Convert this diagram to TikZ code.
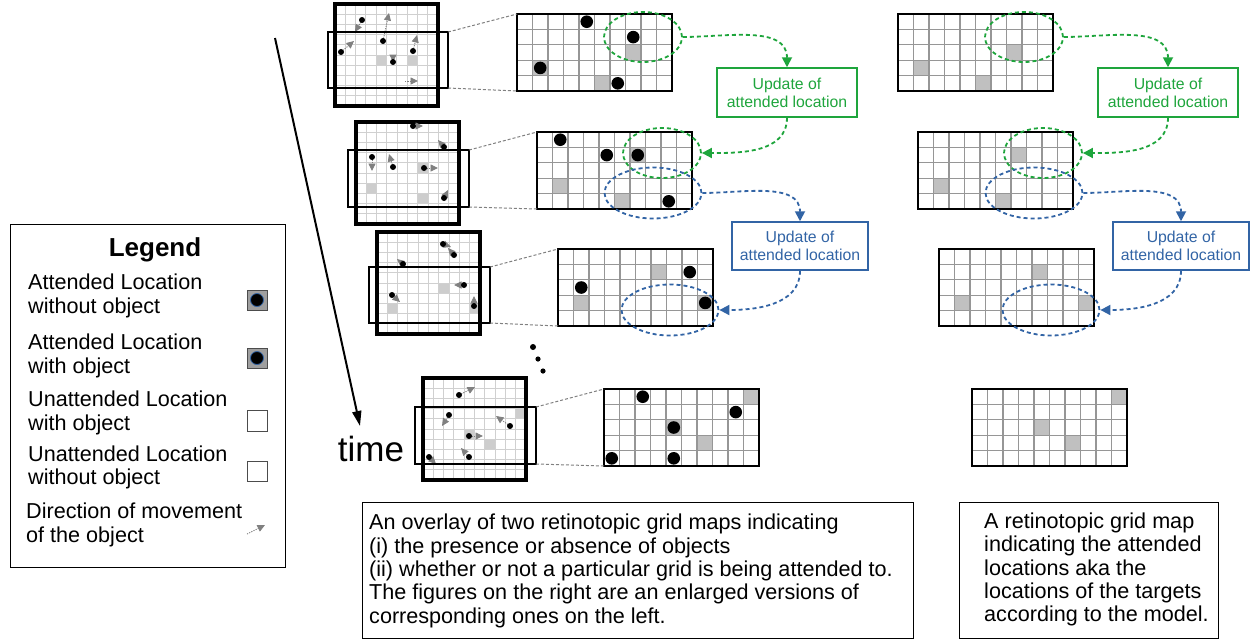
\documentclass[tikz,border=0pt]{standalone}
\usepackage{fontspec}
\setmainfont{Liberation Sans}
\usetikzlibrary{shapes.geometric,arrows.meta}

\definecolor{updgreen}{RGB}{30,165,60}
\definecolor{updblue}{RGB}{50,100,165}
\definecolor{cellgray}{RGB}{192,192,192}
\definecolor{gridgray}{RGB}{150,150,150}
\definecolor{faintgrid}{RGB}{208,208,208}
\definecolor{faintcell}{RGB}{205,205,205}

\tikzset{
  bgrid/.style={draw=gridgray, line width=1.3},
  bborder/.style={draw=black, line width=2.6, inner sep=0, outer sep=0,
    minimum width=155, minimum height=77, anchor=north west},
  sgrid/.style={draw=faintgrid, line width=1},
  sborder/.style={draw=black, line width=3.2, inner sep=0, outer sep=0,
    minimum width=103, minimum height=102, anchor=north west},
  viewbox/.style={draw=black, line width=1.2, inner sep=0, outer sep=0},
  zoomline/.style={draw=gray, line width=1, dash pattern=on 3pt off 2pt},
  smallarrow/.style={draw=gray, line width=0.9, dash pattern=on 1.2pt off 1.2pt,
    -{Triangle[length=7.5,width=7,fill=gray]}},
  gell/.style={ellipse, draw=updgreen, line width=1.8, dash pattern=on 4pt off 3pt,
    inner sep=0, minimum width=78, minimum height=50},
  bell/.style={ellipse, draw=updblue, line width=1.8, dash pattern=on 4pt off 3pt,
    inner sep=0, minimum width=97, minimum height=51},
  gconn/.style={draw=updgreen, line width=1.8, dash pattern=on 4pt off 3pt,
    -{Triangle[length=10,width=10]}},
  bconn/.style={draw=updblue, line width=1.8, dash pattern=on 4pt off 3pt,
    -{Triangle[length=10,width=10]}},
  gbox/.style={draw=updgreen, line width=1.5, text=updgreen, align=center,
    minimum width=140, minimum height=49, inner sep=0,
    font=\fontsize{15.8}{18.3}\selectfont},
  bbox/.style={draw=updblue, line width=1.5, text=updblue, align=center,
    minimum width=136, minimum height=48, inner sep=0,
    font=\fontsize{15.8}{18.3}\selectfont},
  bodytext/.style={align=left, inner sep=0, font=\fontsize{21.6}{23.3}\selectfont},
  framebox/.style={draw=black, line width=1.3, inner sep=0, anchor=north west},
}

% enlarged 10x5 map: position, grey cells (col/row)
\newcommand\bigmap[3]{%
  \begin{scope}[shift={(#1,#2)}]
    \foreach \c/\r in {#3} \fill[cellgray] (\c*15.5,\r*15.4) rectangle ++(15.5,15.4);
    \foreach \i in {1,...,9} \draw[bgrid] (\i*15.5,0) -- (\i*15.5,77);
    \foreach \j in {1,...,4} \draw[bgrid] (0,\j*15.4) -- (155,\j*15.4);
  \end{scope}}
% objects on an enlarged map
\newcommand\bigdots[3]{%
  \begin{scope}[shift={(#1,#2)}]
    \foreach \c/\r in {#3} \fill[black] (\c*15.5+7.75,\r*15.4+7.7) circle[radius=6.3];
  \end{scope}}
% small 10x10 map: position, grey cells (col/row)
\newcommand\smallmap[3]{%
  \begin{scope}[shift={(#1,#2)}]
    \foreach \c/\r in {#3} \fill[faintcell] (\c*10.3,\r*10.2) rectangle ++(10.3,10.2);
    \foreach \i in {1,...,9} \draw[sgrid] (\i*10.3,0) -- (\i*10.3,102);
    \foreach \j in {1,...,9} \draw[sgrid] (0,\j*10.2) -- (103,\j*10.2);
  \end{scope}}
% moving objects: dot position / arrow tip
\newcommand\movers[1]{%
  \foreach \ax/\ay/\bx/\by in {#1} {
    \draw[smallarrow] (\ax,\ay) -- (\bx,\by);
    \fill[black] (\ax,\ay) circle[radius=3];
  }}

\begin{document}
\begin{tikzpicture}[x=1pt,y=-1pt]
\useasboundingbox (0,0) rectangle (1254,638);

% ---------- small overview maps ----------
\smallmap{335}{4}{4/5,7/5}
\node[sborder] (s1) at (335,4) {};
\movers{362/20/355/32, 383/41/389/13, 341/52/354/41, 413/51/417/35, 393/62/393/62.1}
\draw[smallarrow] (405,81) -- (418,81);
\node[viewbox, minimum width=120, minimum height=56] (v1) at (388,60) {};

\smallmap{356}{122}{6/4,1/6,6/7}
\node[sborder] (s2) at (356,122) {};
\movers{413/126/423/126, 444/147/438/140, 372/157/372/171, 393/167/389/154, 424/168/438/168, 444/198/448/190}
\node[viewbox, minimum width=121, minimum height=57] (v2) at (408.5,178.5) {};

\smallmap{377}{232}{6/5,1/7,9/7}
\node[sborder] (s3) at (377,232) {};
\movers{443/244/451/247, 454/255/448/248, 403/264/397/259, 464/285/454/285, 392/295/400/302, 474/306/474/296}
\node[viewbox, minimum width=121, minimum height=56] (v3) at (429.5,295) {};

\smallmap{423}{378}{9/3,4/5,6/6}
\node[sborder] (s4) at (423,378) {};
\movers{459/395/475/387, 449/415/442/426, 510/426/496/416, 469/436/483/436, 469/457/461/448, 429/457/436/464}
\node[viewbox, minimum width=121, minimum height=57] (v4) at (475.5,435.5) {};

% ---------- enlarged maps ----------
\bigmap{517}{14}{7/2,1/3,5/4}
\bigdots{517}{14}{4/0,7/1,1/3,6/4}
\node[bborder] (L1) at (517,14) {};
\bigmap{537}{132}{6/1,1/3,5/4}
\bigdots{537}{132}{1/0,4/1,6/1,8/4}
\node[bborder] (L2) at (537,132) {};
\bigmap{558}{249}{6/1,1/3,9/3}
\bigdots{558}{249}{8/1,1/2,9/3}
\node[bborder] (L3) at (558,249) {};
\bigmap{604}{389}{9/0,4/2,6/3}
\bigdots{604}{389}{2/0,8/1,4/2,0/4,4/4}
\node[bborder] (L4) at (604,389) {};

% ---------- attention maps ----------
\bigmap{898}{14}{7/2,1/3,5/4}
\node[bborder] (R1) at (898,14) {};
\bigmap{918}{132}{6/1,1/3,5/4}
\node[bborder] (R2) at (918,132) {};
\bigmap{939}{249}{6/1,1/3,9/3}
\node[bborder] (R3) at (939,249) {};
\bigmap{972}{389}{9/0,4/2,6/3}
\node[bborder] (R4) at (972,389) {};

% ---------- zoom guide lines ----------
\draw[zoomline] (v1.north east) -- (L1.north west);
\draw[zoomline] (v1.south east) -- (L1.south west);
\draw[zoomline] (v2.north east) -- (L2.north west);
\draw[zoomline] (v2.south east) -- (L2.south west);
\draw[zoomline] (v3.north east) -- (L3.north west);
\draw[zoomline] (v3.south east) -- (L3.south west);
\draw[zoomline] (v4.north east) -- (L4.north west);
\draw[zoomline] (v4.south east) -- (L4.south west);

% ---------- attention updates, middle column ----------
\node[gell] (g1) at (643,37) {};
\node[gell] (g2) at (662,153) {};
\node[bell] (b2) at (653,193) {};
\node[bell] (b3) at (670,310) {};
\node[gbox] (gb1) at (787,92.5) {Update of\\attended location};
\node[bbox] (bb1) at (800,246) {Update of\\attended location};
\draw[gconn] (g1.east) to[out=0,in=90] (gb1.north);
\draw[gconn] (gb1.south) to[out=-90,in=0] (g2.east);
\draw[bconn] (b2.east) to[out=0,in=90] (bb1.north);
\draw[bconn] (bb1.south) to[out=-90,in=0] (b3.east);

% ---------- attention updates, right column ----------
\node[gell] (g1r) at (1024,37) {};
\node[gell] (g2r) at (1043,153) {};
\node[bell] (b2r) at (1034,193) {};
\node[bell] (b3r) at (1051,310) {};
\node[gbox] (gb2) at (1168,92.5) {Update of\\attended location};
\node[bbox] (bb2) at (1181,246) {Update of\\attended location};
\draw[gconn] (g1r.east) to[out=0,in=90] (gb2.north);
\draw[gconn] (gb2.south) to[out=-90,in=0] (g2r.east);
\draw[bconn] (b2r.east) to[out=0,in=90] (bb2.north);
\draw[bconn] (bb2.south) to[out=-90,in=0] (b3r.east);

% ---------- continuation dots ----------
\fill (533,347) circle[radius=3];
\fill (538,359) circle[radius=2.6];
\fill (543,371) circle[radius=2.6];

% ---------- time axis ----------
\coordinate (t0) at (275,38);
\coordinate (t1) at (360,426);
\draw[line width=2, -{Triangle[length=15,width=9]}] (t0) -- (t1);
\node[inner sep=0, font=\fontsize{35}{40}\selectfont] (time) at (371,449) {time};

% ---------- legend ----------
\node[framebox, minimum width=275, minimum height=343] (legend) at (10,224) {};
\node[inner sep=0, font=\bfseries\fontsize{26}{30}\selectfont] (legtitle) at (155,250) {Legend};
\node[bodytext, anchor=west] (leg1) at (28,296) {Attended Location\\without object};
\node[bodytext, anchor=west] (leg2) at (28,356) {Attended Location\\with object};
\node[bodytext, anchor=west] (leg3) at (28,413) {Unattended Location\\with object};
\node[bodytext, anchor=west] (leg4) at (28,467.5) {Unattended Location\\without object};
\node[bodytext, anchor=west] (leg5) at (26,525) {Direction of movement\\of the object};
\filldraw[fill=gray!75, draw=black!70, line width=1] (247,290) rectangle (267,310);
\filldraw[fill=black, draw=updblue, line width=0.8] (257,300) circle[radius=6.5];
\filldraw[fill=gray!75, draw=black!70, line width=1] (247,348) rectangle (267,368);
\filldraw[fill=black, draw=updblue, line width=0.8] (257,358) circle[radius=6.5];
\draw[black!70, line width=1] (247,410) rectangle (267,431);
\draw[black!70, line width=1] (247,461) rectangle (267,481);
\draw[smallarrow] (247,534) -- (265,525);

% ---------- captions ----------
\node[framebox, minimum width=551, minimum height=136] (cap1) at (362,502) {};
\node[bodytext, anchor=west] (cap1text) at (369,571) {An overlay of two retinotopic grid maps indicating\\(i) the presence or absence of objects\\(ii) whether or not a particular grid is being attended to.\\The figures on the right are an enlarged versions of\\corresponding ones on the left.};
\node[framebox, minimum width=259, minimum height=136] (cap2) at (959,502) {};
\node[bodytext, anchor=west] (cap2text) at (984,569.5) {A retinotopic grid map\\indicating the attended\\locations aka the\\locations of the targets\\according to the model.};
\end{tikzpicture}
\end{document}
